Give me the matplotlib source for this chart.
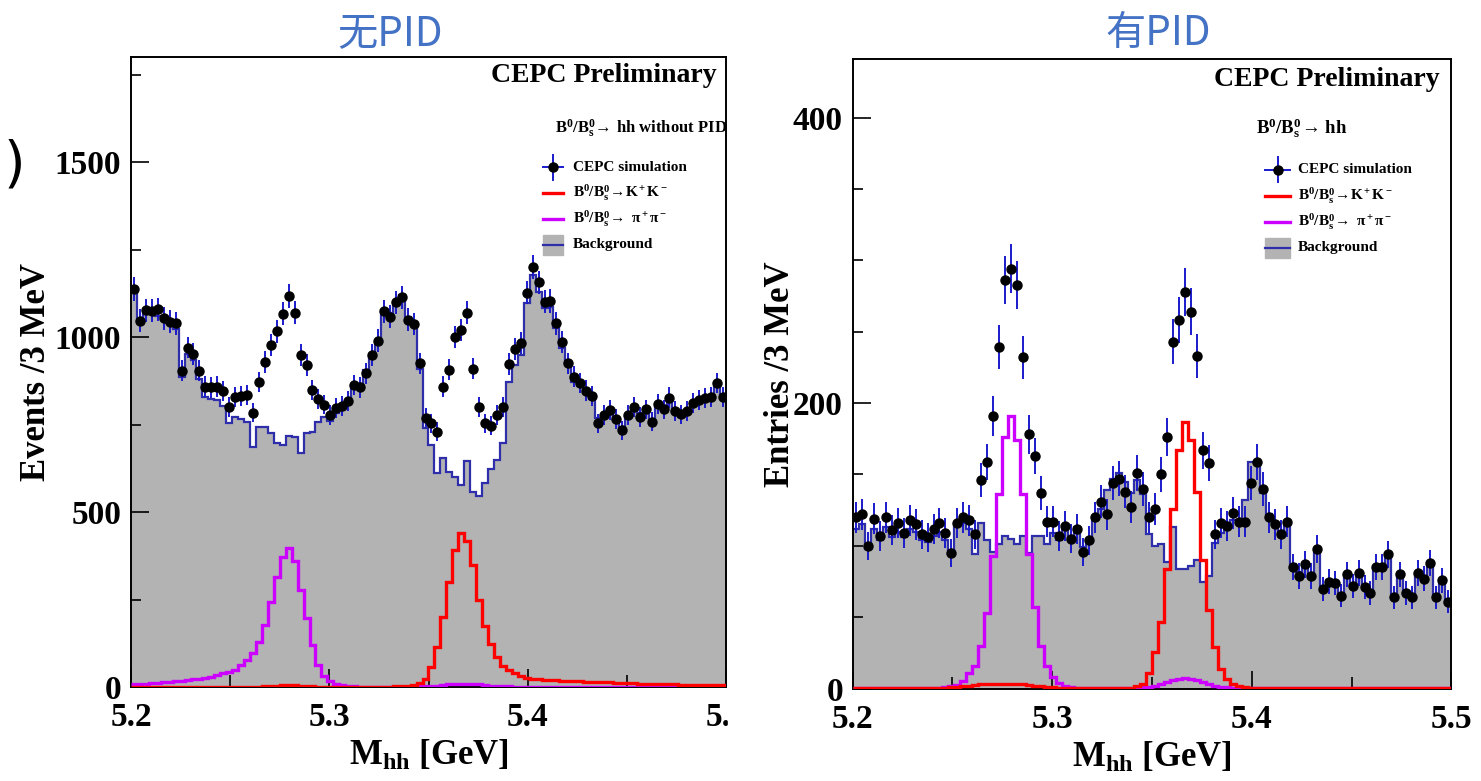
import numpy as np
import matplotlib
matplotlib.use("Agg")
import matplotlib.pyplot as plt
from matplotlib.patches import Rectangle
from matplotlib.ticker import MultipleLocator, FormatStrFormatter

plt.rcParams['font.family'] = ['Liberation Serif', 'DejaVu Serif']
plt.rcParams['font.weight'] = 'bold'
plt.rcParams['axes.labelweight'] = 'bold'
plt.rcParams['mathtext.fontset'] = 'custom'
plt.rcParams['mathtext.rm'] = 'Liberation Serif:bold'
plt.rcParams['mathtext.it'] = 'Liberation Serif:italic:bold'
plt.rcParams['mathtext.bf'] = 'Liberation Serif:bold'

# 100 bins of 3 MeV between 5.2 and 5.5 GeV
m_lo, m_hi, n_bins = 5.2, 5.5, 100

# ---- left panel: without PID (Events / 3 MeV) ----
nopid_data = [1137, 1047, 1077, 1075, 1079, 1053, 1044, 1039, 904, 970,
              952, 904, 858, 856, 858, 845, 801, 828, 831, 834,
              784, 871, 929, 978, 1016, 1066, 1117, 1069, 948, 920,
              849, 823, 807, 777, 798, 803, 817, 863, 856, 896,
              949, 990, 1074, 1058, 1099, 1113, 1050, 1037, 925, 770,
              753, 729, 858, 906, 1001, 1020, 1069, 910, 799, 753,
              747, 777, 799, 923, 966, 982, 1127, 1201, 1156, 1101,
              1103, 1039, 985, 925, 887, 869, 847, 832, 753, 777,
              791, 766, 734, 777, 801, 772, 793, 758, 809, 793,
              827, 789, 779, 789, 812, 820, 825, 829, 869, 829]
nopid_bkg = [1134, 1045, 1067, 1067, 1060, 1048, 1039, 1022, 885, 951,
             934, 879, 828, 824, 820, 803, 755, 772, 765, 758,
             687, 744, 744, 725, 698, 691, 718, 715, 668, 727,
             729, 758, 772, 761, 782, 806, 815, 856, 863, 906,
             942, 987, 1077, 1068, 1096, 1120, 1058, 1039, 910, 739,
             691, 612, 653, 615, 601, 577, 647, 558, 546, 582,
             622, 650, 696, 872, 920, 949, 1096, 1177, 1129, 1082,
             1087, 1025, 968, 920, 872, 860, 839, 822, 768, 772,
             793, 763, 744, 772, 791, 784, 787, 763, 801, 796,
             815, 782, 772, 784, 806, 815, 820, 825, 860, 834]
nopid_kk = [1, 1, 1, 1, 1, 1, 1, 1, 1, 1,
            1, 1, 1, 1, 1, 1, 1, 1, 1, 1,
            1, 1, 2, 3, 4, 5, 5, 5, 4, 3,
            2, 1, 1, 1, 1, 1, 1, 1, 1, 1,
            1, 1, 1, 1, 2, 2, 3, 6, 11, 24,
            57, 114, 200, 301, 391, 439, 418, 349, 250, 174,
            123, 86, 61, 48, 39, 32, 27, 23, 22, 21,
            20, 19, 18, 17, 17, 16, 15, 15, 14, 13,
            13, 12, 12, 11, 11, 10, 10, 9, 9, 8,
            8, 8, 7, 7, 7, 6, 6, 6, 5, 5]
nopid_pipi = [8, 9, 10, 11, 12, 13, 14, 16, 18, 20,
              22, 24, 27, 30, 35, 39, 44, 50, 64, 77,
              96, 130, 177, 244, 313, 372, 396, 360, 277, 196,
              120, 63, 31, 17, 10, 5, 3, 2, 1, 1,
              1, 1, 1, 1, 1, 1, 1, 2, 2, 2,
              3, 4, 6, 8, 9, 10, 10, 9, 8, 6,
              4, 3, 2, 2, 1, 1, 1, 1, 1, 1,
              1, 1, 1, 1, 1, 1, 1, 1, 1, 1,
              1, 1, 1, 1, 1, 1, 1, 1, 1, 1,
              1, 1, 1, 1, 1, 1, 1, 1, 1, 1]

# ---- right panel: with PID (Entries / 3 MeV) ----
pid_data = [120, 122, 100, 119, 107, 120, 111, 116, 109, 118,
            115, 108, 106, 112, 116, 109, 95, 116, 120, 118,
            108, 146, 159, 191, 239, 286, 294, 283, 232, 178,
            163, 137, 117, 117, 107, 114, 105, 112, 96, 104,
            120, 131, 122, 144, 147, 138, 127, 151, 140, 120,
            126, 150, 176, 243, 258, 278, 264, 233, 167, 158,
            108, 116, 114, 123, 117, 117, 144, 159, 140, 120,
            115, 108, 117, 85, 79, 87, 79, 98, 70, 75,
            74, 65, 80, 72, 81, 71, 67, 85, 85, 94,
            64, 80, 67, 64, 81, 77, 88, 64, 76, 61]
pid_bkg = [112, 115, 98, 112, 104, 113, 106, 110, 106, 112,
           110, 104, 103, 107, 110, 104, 94, 114, 116, 112,
           94, 116, 104, 96, 101, 107, 105, 101, 107, 95,
           107, 107, 101, 109, 104, 111, 105, 113, 99, 104,
           119, 126, 139, 147, 151, 145, 137, 146, 136, 108,
           100, 101, 89, 113, 84, 84, 86, 90, 75, 79,
           102, 109, 113, 118, 118, 132, 159, 158, 137, 122,
           115, 110, 114, 87, 82, 86, 80, 95, 72, 76,
           75, 67, 79, 73, 80, 72, 69, 84, 85, 92,
           66, 79, 68, 65, 80, 77, 86, 65, 75, 60]
pid_kk = [0.2, 0.2, 0.2, 0.2, 0.2, 0.2, 0.2, 0.2, 0.2, 0.2,
          0.2, 0.2, 0.2, 0.2, 0.2, 0.5, 0.8, 1, 1.5, 2,
          2.5, 3, 3, 3.5, 3.5, 3.5, 3.5, 3, 3, 2.5,
          2, 1.5, 1, 0.8, 0.5, 0.3, 0.3, 0.3, 0.3, 0.3,
          0.3, 0.3, 0.3, 0.3, 0.3, 0.3, 0.3, 1.5, 3.4, 10.6,
          25.8, 46.9, 84, 126, 167, 187, 174, 138, 90, 55,
          29, 14, 7, 3.4, 1.5, 0.8, 0.3, 0.3, 0.3, 0.3,
          0.3, 0.3, 0.3, 0.3, 0.3, 0.3, 0.3, 0.3, 0.3, 0.3,
          0.3, 0.3, 0.3, 0.3, 0.3, 0.3, 0.3, 0.3, 0.3, 0.3,
          0.3, 0.3, 0.3, 0.3, 0.3, 0.3, 0.3, 0.3, 0.3, 0.3]
pid_pipi = [0.2, 0.2, 0.2, 0.2, 0.2, 0.2, 0.2, 0.2, 0.2, 0.2,
            0.5, 0.5, 0.5, 0.5, 0.5, 1, 1.5, 2.5, 5, 11,
            16, 30, 53, 93, 136, 176, 191, 174, 136, 94,
            57, 30, 16, 8, 4, 2, 1, 0.5, 0.5, 0.5,
            0.5, 0.5, 0.5, 0.5, 0.5, 0.5, 0.5, 0.5, 0.8, 1,
            2, 3, 4.5, 6, 7, 7.5, 7, 6, 4.5, 3,
            2, 1, 0.8, 0.3, 0.3, 0.3, 0.3, 0.3, 0.3, 0.3,
            0.3, 0.3, 0.3, 0.3, 0.3, 0.3, 0.3, 0.3, 0.3, 0.3,
            0.3, 0.3, 0.3, 0.3, 0.3, 0.3, 0.3, 0.3, 0.3, 0.3,
            0.3, 0.3, 0.3, 0.3, 0.3, 0.3, 0.3, 0.3, 0.3, 0.3]

BKG_FILL = '#b3b3b3'
BKG_LINE = '#2e2eaa'
ERR_BLUE = '#1a1acc'
KK_RED = '#ff0000'
PIPI_MAG = '#cc00ff'

W, H = 1481, 781
fig = plt.figure(figsize=(W / 100, H / 100), dpi=100)


def add_axes_px(left, top, right, bottom):
    return fig.add_axes([left / W, 1 - bottom / H, (right - left) / W, (bottom - top) / H])


def draw_panel(ax, data, bkg, kk, pipi, ymax, ymaj, ymin_step, ylabel):
    edges = np.linspace(m_lo, m_hi, n_bins + 1)
    centers = 0.5 * (edges[:-1] + edges[1:])
    data = np.asarray(data, dtype=float)
    ax.stairs(bkg, edges, fill=True, color=BKG_FILL, zorder=1)
    ax.stairs(bkg, edges, color=BKG_LINE, lw=1.6, baseline=None, zorder=2)
    ax.stairs(pipi, edges, color=PIPI_MAG, lw=2.4, baseline=None, zorder=3)
    ax.stairs(kk, edges, color=KK_RED, lw=2.4, baseline=None, zorder=3)
    ax.errorbar(centers, data, yerr=np.sqrt(data), fmt='o', ms=6.5,
                mfc='black', mec='black', ecolor=ERR_BLUE, elinewidth=1.4,
                capsize=0, zorder=4)
    ax.set_xlim(m_lo, m_hi)
    ax.set_ylim(0, ymax)
    ax.xaxis.set_major_locator(MultipleLocator(0.1))
    ax.xaxis.set_minor_locator(MultipleLocator(0.05))
    ax.yaxis.set_major_locator(MultipleLocator(ymaj))
    ax.yaxis.set_minor_locator(MultipleLocator(ymin_step))
    ax.xaxis.set_major_formatter(FormatStrFormatter('%.1f'))
    ax.tick_params(which='both', direction='in', top=False, right=False,
                   labelsize=24, width=1.2)
    ax.tick_params(which='major', length=13)
    ax.tick_params(which='major', axis='y', pad=7)
    ax.tick_params(which='major', axis='x', pad=11)
    ax.tick_params(which='minor', axis='y', length=7)
    ax.tick_params(which='minor', axis='x', length=9)
    for s in ax.spines.values():
        s.set_linewidth(1.4)
    ax.set_xlabel(r'$\mathrm{M_{hh}}$ [GeV]', fontsize=25, va='center')
    ax.xaxis.set_label_coords(0.5, -0.11)
    ax.set_ylabel(ylabel, fontsize=25, va='center', ha='center')


def draw_legend(ax, x0, x1, xt, ys, fs):
    xm = 0.5 * (x0 + x1)
    tr = ax.transAxes
    # CEPC simulation
    ax.plot([x0, x1], [ys[0], ys[0]], color=ERR_BLUE, lw=1.4, transform=tr, zorder=6)
    ax.plot([xm, xm], [ys[0] - 0.02, ys[0] + 0.02], color=ERR_BLUE, lw=1.4, transform=tr, zorder=6)
    ax.plot([xm], [ys[0]], 'o', color='black', ms=6.5, transform=tr, zorder=7)
    ax.text(xt, ys[0], 'CEPC simulation', fontsize=fs, va='center', transform=tr)
    # signals
    ax.plot([x0, x1], [ys[1], ys[1]], color=KK_RED, lw=2.4, transform=tr, zorder=6)
    ax.text(xt, ys[1], r'$\mathrm{B^0/B_s^0\!\rightarrow\!K^+K^-}$', fontsize=fs,
            va='center', transform=tr)
    ax.plot([x0, x1], [ys[2], ys[2]], color=PIPI_MAG, lw=2.4, transform=tr, zorder=6)
    ax.text(xt, ys[2], r'$\mathrm{B^0/B_s^0\!\rightarrow\ \pi^+\pi^-}$', fontsize=fs,
            va='center', transform=tr)
    # background
    ax.add_patch(Rectangle((x0, ys[3] - 0.016), x1 - x0, 0.032, transform=tr,
                           color=BKG_FILL, zorder=5))
    ax.plot([x0, x1], [ys[3], ys[3]], color=BKG_LINE, lw=1.6, transform=tr, zorder=6)
    ax.text(xt, ys[3], 'Background', fontsize=fs, va='center', transform=tr)


# left: without PID
axl = add_axes_px(131, 57, 726, 687)
draw_panel(axl, nopid_data, nopid_bkg, nopid_kk, nopid_pipi, 1800, 500, 250, 'Events /3 MeV')
axl.yaxis.set_label_coords(-0.158, 0.5)
axl.text(0.985, 0.970, 'CEPC Preliminary', fontsize=20, ha='right', va='center',
         transform=axl.transAxes)
axl.text(0.712, 0.887, r'$\mathrm{B^0/B_s^0\!\rightarrow\!}$ hh without PID', fontsize=12,
         ha='left', va='center', transform=axl.transAxes)
draw_legend(axl, 0.692, 0.726, 0.743, [0.825, 0.784, 0.743, 0.702], 11)

# right: with PID
axr = add_axes_px(852.7, 59, 1451.3, 688.6)
draw_panel(axr, pid_data, pid_bkg, pid_kk, pid_pipi, 441, 200, 50, 'Entries /3 MeV')
axr.yaxis.set_label_coords(-0.12, 0.5)
axr.text(0.981, 0.968, 'CEPC Preliminary', fontsize=20, ha='right', va='center',
         transform=axr.transAxes)
axr.text(0.674, 0.890, r'$\mathrm{B^0/B_s^0\!\rightarrow\!}$ hh', fontsize=13.5,
         ha='left', va='center', transform=axr.transAxes)
draw_legend(axr, 0.689, 0.731, 0.744, [0.824, 0.782, 0.741, 0.700], 11)

# the left picture is cut just after its last axis tick
fig.add_artist(Rectangle((728 / W, 1 - 745 / H), 30 / W, 60 / H, transform=fig.transFigure,
                         color='white', zorder=10))

# panel titles
cjk = ['Noto Sans CJK SC', 'DejaVu Sans']
fig.text(390 / W, 1 - 34 / H, '无PID', color='#4472C4', fontsize=29, family=cjk,
         weight='normal', ha='center', va='center')
fig.text(1158 / W, 1 - 34 / H, '有PID', color='#4472C4', fontsize=29, family=cjk,
         weight='normal', ha='center', va='center')
fig.text(14 / W, 1 - 165 / H, ')', fontsize=40, family='DejaVu Sans', weight='normal',
         ha='center', va='center')

fig.savefig('out.png', dpi=100)
